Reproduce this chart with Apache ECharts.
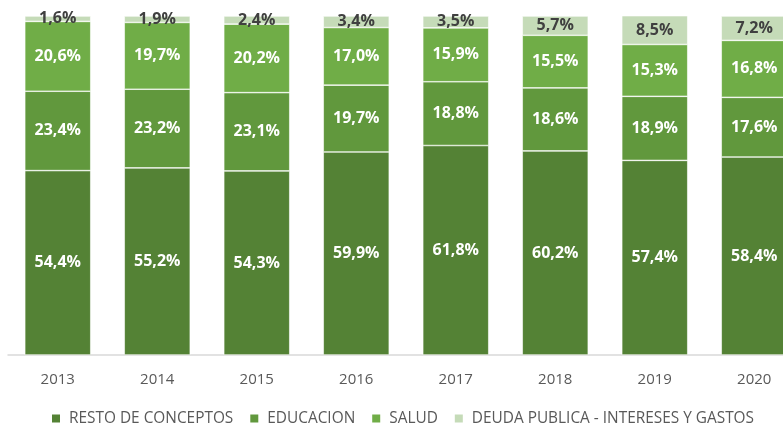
<!DOCTYPE html>
<html>
<head>
<meta charset="utf-8">
<script src="https://cdn.jsdelivr.net/npm/echarts@6/dist/echarts.min.js"></script>
<style>
  html, body { margin: 0; padding: 0; background: #fff; }
  #chart { width: 783px; height: 424px; }
</style>
</head>
<body>
<div id="chart"></div>
<script>
const years = ['2013', '2014', '2015', '2016', '2017', '2018', '2019', '2020']
const resto = [54.4, 55.2, 54.3, 59.9, 61.8, 60.2, 57.4, 58.4]
const educacion = [23.4, 23.2, 23.1, 19.7, 18.8, 18.6, 18.9, 17.6]
const salud = [20.6, 19.7, 20.2, 17.0, 15.9, 15.5, 15.3, 16.8]
const deuda = [1.6, 1.9, 2.4, 3.4, 3.5, 5.7, 8.5, 7.2]

const names = ['RESTO DE CONCEPTOS', 'EDUCACION', 'SALUD', 'DEUDA PUBLICA - INTERESES Y GASTOS']
const colors = ['#548235', '#61983D', '#70AD47', '#C5DBB8']
const values = [resto, educacion, salud, deuda]

const fmt = v => v.toFixed(1).replace('.', ',') + '%'

const myChart = echarts.init(document.getElementById('chart'))
const option = {
  animation: false,
  // last bar runs past the right edge, like the original
  grid: { left: 8, top: 16, width: 796, height: 339, outerBoundsMode: 'none', containLabel: false },
  xAxis: {
    type: 'category',
    data: years,
    axisLine: { lineStyle: { color: '#D9D9D9', width: 1.5 } },
    axisTick: { show: false },
    axisLabel: { color: '#595959', fontSize: 15, margin: 17, fontFamily: 'Open Sans' }
  },
  yAxis: { type: 'value', min: 0, max: 100, show: false },
  legend: {
    data: names,
    left: 45,
    top: 406,
    itemWidth: 10,
    itemHeight: 10,
    itemGap: 15,
    icon: 'rect',
    textStyle: { color: '#595959', fontSize: 15.4, fontFamily: 'Open Sans', padding: [0, 0, 0, 3] }
  },
  series: names.map((name, i) => ({
    type: 'bar',
    name: name,
    stack: 'total',
    data: values[i],
    barWidth: 66,
    itemStyle: { color: colors[i], borderColor: '#ffffff', borderWidth: 0.6 },
    label: {
      show: true,
      position: 'inside',
      formatter: p => fmt(p.value),
      color: i === 3 ? '#404040' : '#ffffff',
      fontSize: 16,
      fontWeight: 'bold',
      fontFamily: 'Open Sans'
    }
  }))
}
option && myChart.setOption(option)
</script>
</body>
</html>
